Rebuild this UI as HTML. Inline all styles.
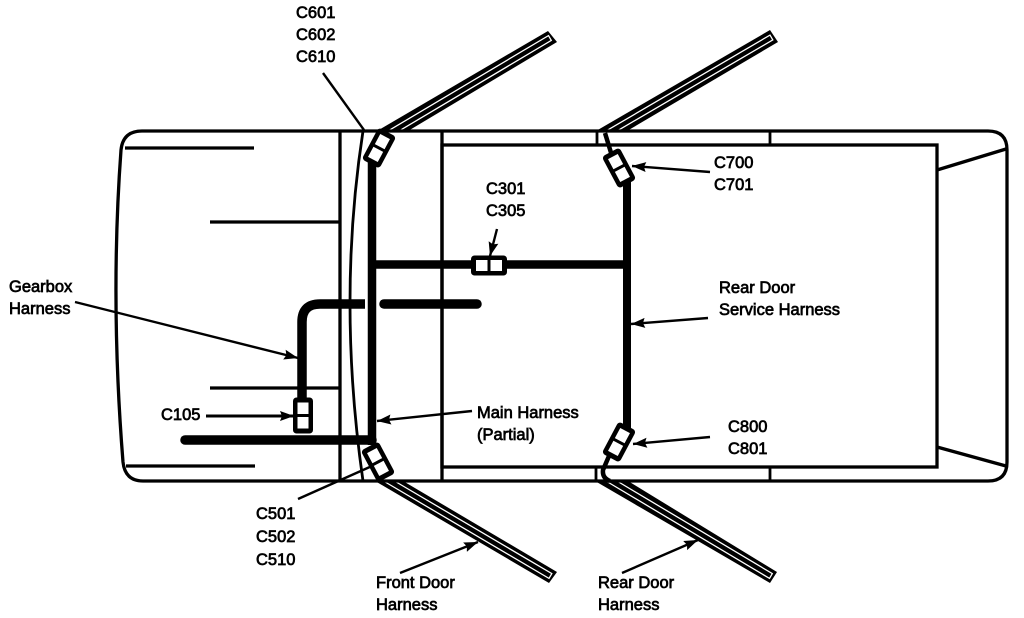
<!DOCTYPE html>
<html>
<head>
<meta charset="utf-8">
<style>
html,body{margin:0;padding:0;background:#fff;width:1024px;height:618px;overflow:hidden}
svg{display:block}
text{font-family:"Liberation Sans",Arial,sans-serif;font-size:16.5px;fill:#000;stroke:#000;stroke-width:.7}
</style>
</head>
<body>
<svg width="1024" height="618" viewBox="0 0 1024 618" xmlns="http://www.w3.org/2000/svg">
<defs>
<marker id="a" markerUnits="userSpaceOnUse" markerWidth="16" markerHeight="12" refX="14" refY="6" orient="auto"><path d="M0 1L14 6L0 11L2 6Z" fill="#000"/></marker>
<g id="conn">
<rect x="-8.500" y="-16.500" width="17" height="33" rx="2" fill="#000" stroke="#000" stroke-width="3"/>
<rect x="-5.500" y="-13" width="11" height="11.500" fill="#fff"/>
<rect x="-5.500" y="1.500" width="11" height="11.500" fill="#fff"/>
</g>
</defs>

<!-- doors -->
<g>
<polygon points="377,131 548,31 557,42 408,131" fill="#000"/>
<path d="M388 131L548.500 35.600L551.300 40.400L399 131" fill="none" stroke="#fff" stroke-width="1.300"/>
<polygon points="596,131 770,30 778,42 627,131" fill="#000"/>
<path d="M606 131L770 35.100L772.800 39.900L617 131" fill="none" stroke="#fff" stroke-width="1.300"/>
<polygon points="375,481 549,583 557,572 403,481" fill="#000"/>
<path d="M394.500 481L551.800 573.600L549 578.400L383.500 481" fill="none" stroke="#fff" stroke-width="1.300"/>
<polygon points="595,481 770,583 777,572 628,481" fill="#000"/>
<path d="M617 481L772.300 573.600L769.500 578.400L606 481" fill="none" stroke="#fff" stroke-width="1.300"/>
</g>

<!-- body -->
<g fill="none" stroke="#000" stroke-width="3.300">
<path d="M142 131Q123 131 121 150Q110 300 123 462Q125 481 143 481H988Q1007 481 1007 462V150Q1007 131 988 131Z"/>
<rect x="442" y="145" width="495" height="322"/>
<path d="M442 131V481"/>
<path d="M340 131V481"/>
<path d="M363 131Q337 300 363 481" stroke-width="2.800"/>
<path d="M597 131V145M770 131V145M596 467V481M770 467V481" stroke-width="2.800"/>
<path d="M937 170L1006 149M937 447L1006 466"/>
<path d="M125 148H254M210 222H340M210 388H340M126 466H255"/>
</g>

<!-- harness -->
<g fill="none" stroke="#000">
<path d="M372 160V445" stroke-width="8.500"/>
<path d="M372 264.500H627" stroke-width="8.500"/>
<path d="M627 180V430" stroke-width="8"/>
<path d="M302 430V322Q302 304 320 304H365" stroke-width="9.500"/>
<path d="M384 304H477" stroke-width="9.500" stroke-linecap="round"/>
<path d="M185 440H372" stroke-width="9.500" stroke-linecap="round"/>
<path d="M605 133L612 156" stroke-width="4.500"/>
<path d="M609 456L603 470Q602 478 610 481" stroke-width="4.500"/>
</g>

<!-- leaders -->
<g fill="none" stroke="#000" stroke-width="2.400">
<path d="M323 73L364 130"/>
<path d="M298 499L372 466"/>
<path d="M497 229L490 256" marker-end="url(#a)"/>
<path d="M710 172L632 166" marker-end="url(#a)"/>
<path d="M710 437L633 444" marker-end="url(#a)"/>
<path d="M708 318L631 324" marker-end="url(#a)"/>
<path d="M472 411L377 421" marker-end="url(#a)"/>
<path d="M75 302L298 358" marker-end="url(#a)"/>
<path d="M206 416L294 416" stroke-width="3" marker-end="url(#a)"/>
<path d="M400 573L478 542" marker-end="url(#a)"/>
<path d="M622 573L698 540" marker-end="url(#a)"/>
</g>

<!-- connectors -->
<use href="#conn" transform="translate(379,148) rotate(28)"/>
<use href="#conn" transform="translate(378,462) rotate(-28)"/>
<use href="#conn" transform="translate(619,168) rotate(-28)"/>
<use href="#conn" transform="translate(619,442) rotate(28)"/>
<use href="#conn" transform="translate(303,415.500)"/>
<use href="#conn" transform="translate(489,265.500) rotate(90)"/>

<!-- labels -->
<text x="296" y="18">C601</text>
<text x="296" y="40">C602</text>
<text x="296" y="62">C610</text>
<text x="486" y="194">C301</text>
<text x="486" y="216">C305</text>
<text x="714" y="168">C700</text>
<text x="714" y="190">C701</text>
<text x="719" y="293">Rear Door</text>
<text x="719" y="315">Service Harness</text>
<text x="9" y="292">Gearbox</text>
<text x="9" y="314">Harness</text>
<text x="161" y="420">C105</text>
<text x="477" y="418">Main Harness</text>
<text x="477" y="440">(Partial)</text>
<text x="728" y="432">C800</text>
<text x="728" y="454">C801</text>
<text x="256" y="519">C501</text>
<text x="256" y="542">C502</text>
<text x="256" y="565">C510</text>
<text x="376" y="588">Front Door</text>
<text x="376" y="610">Harness</text>
<text x="598" y="588">Rear Door</text>
<text x="598" y="610">Harness</text>
</svg>
</body>
</html>
